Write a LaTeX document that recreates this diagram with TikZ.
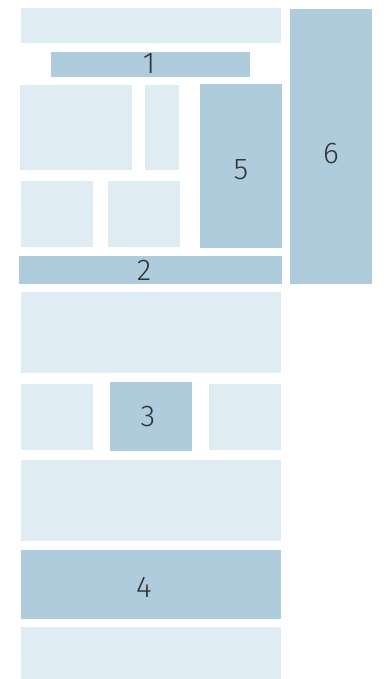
\documentclass[tikz,border=0pt]{standalone}
\usepackage{fontspec}
\setmainfont{Fira Sans}[UprightFont=* Light]
\usetikzlibrary{fit}
\definecolor{panellight}{HTML}{DFECF3}
\definecolor{paneldark}{HTML}{AFCCDC}
\definecolor{digitgrey}{HTML}{333333}

\begin{document}
\begin{tikzpicture}[x=1pt,y=-1pt,
  light/.style={fill=panellight,inner sep=0pt,outer sep=0pt},
  dark/.style={fill=paneldark,inner sep=0pt,outer sep=0pt},
  digit/.style={text=digitgrey,font=\fontsize{30}{30}\selectfont,inner sep=0pt}]
  \useasboundingbox (0,0) rectangle (388,679);

  % Top block
  \node[light,fit={(21,8)(281,43)}] (header) {};
  \node[dark,fit={(51,52)(250,77)}] (bar1) {};
  \node[light,fit={(20,85)(132,170)}] (wideA) {};
  \node[light,fit={(145,85)(179,170)}] (narrowA) {};
  \node[light,fit={(21,181)(93,247)}] (smallA) {};
  \node[light,fit={(108,181)(180,247)}] (smallB) {};
  \node[dark,fit={(200,84)(282,248)}] (col5) {};
  \node[dark,fit={(290,9)(372,284)}] (col6) {};
  \node[dark,fit={(19,256)(282,284)}] (bar2) {};

  % Middle block
  \node[light,fit={(21,292)(281,373)}] (bandA) {};
  \node[light,fit={(21,384)(93,450)}] (smallC) {};
  \node[dark,fit={(110,382)(192,451)}] (box3) {};
  \node[light,fit={(209,384)(281,450)}] (smallD) {};
  \node[light,fit={(21,460)(281,541)}] (bandB) {};

  % Bottom block
  \node[dark,fit={(21,550)(281,619)}] (bar4) {};
  \node[light,fit={(21,627)(281,679)}] (footer) {};

  % Numbers
  \node[digit] (n1) at (149,64) {1};
  \node[digit] (n2) at (144,270) {2};
  \node[digit] (n3) at (148,417) {3};
  \node[digit] (n4) at (144,587) {4};
  \node[digit] (n5) at (241,170) {5};
  \node[digit] (n6) at (331,154) {6};
\end{tikzpicture}
\end{document}
